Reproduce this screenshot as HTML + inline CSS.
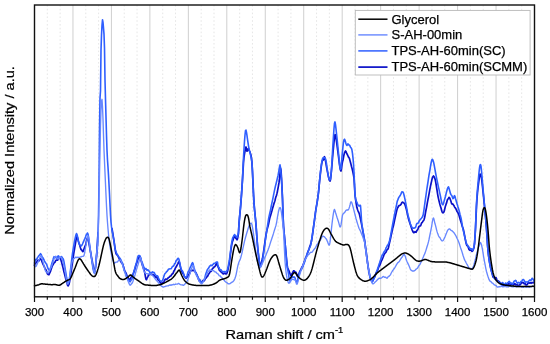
<!DOCTYPE html><html><head><meta charset="utf-8"><title>Raman spectra</title>
<style>html,body{margin:0;padding:0;background:#fff;}body{width:550px;height:344px;overflow:hidden;}svg{display:block;}text{font-family:"Liberation Sans",Arial,sans-serif;fill:#000;stroke:#000;stroke-width:0.25px;}</style></head><body>
<svg width="550" height="344" viewBox="0 0 550 344">
<rect x="0" y="0" width="550" height="344" fill="#fff"/>
<path d="M47.32,5.0V296.8M60.14,5.0V296.8M85.78,5.0V296.8M98.60,5.0V296.8M124.24,5.0V296.8M137.06,5.0V296.8M162.71,5.0V296.8M175.53,5.0V296.8M201.17,5.0V296.8M213.99,5.0V296.8M239.63,5.0V296.8M252.45,5.0V296.8M278.09,5.0V296.8M290.91,5.0V296.8M316.55,5.0V296.8M329.37,5.0V296.8M355.01,5.0V296.8M367.83,5.0V296.8M393.47,5.0V296.8M406.29,5.0V296.8M431.94,5.0V296.8M444.76,5.0V296.8M470.40,5.0V296.8M483.22,5.0V296.8M508.86,5.0V296.8M521.68,5.0V296.8" stroke="#e0e0e0" stroke-width="0.8" stroke-dasharray="1.6,2.2" fill="none"/>
<path d="M72.96,5.0V296.8M111.42,5.0V296.8M149.88,5.0V296.8M188.35,5.0V296.8M226.81,5.0V296.8M265.27,5.0V296.8M303.73,5.0V296.8M342.19,5.0V296.8M380.65,5.0V296.8M419.12,5.0V296.8M457.58,5.0V296.8M496.04,5.0V296.8" stroke="#cfcfcf" stroke-width="1" fill="none"/>
<g fill="none" stroke-linejoin="round" stroke-linecap="round">
<path d="M34.5,265.3 L35.0,263.8 L35.5,263.3 L36.0,262.9 L36.5,262.2 L37.0,261.4 L37.5,260.5 L38.0,260.0 L38.5,260.3 L39.0,260.8 L39.5,259.9 L40.0,258.8 L40.5,258.9 L41.0,259.3 L41.5,260.2 L42.0,261.6 L42.5,263.0 L43.0,264.2 L43.5,265.2 L44.0,266.1 L44.5,267.2 L45.0,268.6 L45.5,269.4 L46.0,269.9 L46.5,271.0 L47.0,272.6 L47.5,273.9 L48.0,274.2 L48.5,274.6 L49.0,274.6 L49.5,273.5 L50.0,272.4 L50.5,271.3 L51.0,269.8 L51.5,268.3 L52.0,266.8 L52.5,265.4 L53.0,264.9 L53.5,263.9 L54.0,262.8 L54.5,262.7 L55.0,262.2 L55.5,261.1 L56.0,260.2 L56.5,260.0 L57.0,260.1 L57.5,260.2 L58.0,259.7 L58.5,259.0 L59.0,258.5 L59.5,257.6 L60.0,257.5 L60.5,258.6 L61.0,260.2 L61.5,261.9 L62.0,263.8 L62.5,265.7 L63.0,267.6 L63.5,269.9 L64.0,272.0 L64.5,273.7 L65.0,275.7 L65.5,277.9 L66.0,279.8 L66.5,281.3 L67.0,283.0 L67.5,285.0 L68.0,285.9 L68.5,285.2 L69.0,284.3 L69.5,282.1 L70.0,279.0 L70.5,275.8 L71.0,272.3 L71.5,268.8 L72.0,265.4 L72.5,262.1 L73.0,258.7 L73.5,255.1 L74.0,251.8 L74.5,249.0 L75.0,246.1 L75.5,243.0 L76.0,240.1 L76.5,237.7 L77.0,236.6 L77.5,237.6 L78.0,239.6 L78.5,241.7 L79.0,243.2 L79.5,244.6 L80.0,246.3 L80.5,248.0 L81.0,249.4 L81.5,250.0 L82.0,250.3 L82.5,251.4 L83.0,251.6 L83.5,250.6 L84.0,249.1 L84.5,247.6 L85.0,246.3 L85.5,245.1 L86.0,243.4 L86.5,241.0 L87.0,238.8 L87.5,237.8 L88.0,238.2 L88.5,240.2 L89.0,243.1 L89.5,246.3 L90.0,249.2 L90.5,251.8 L91.0,254.5 L91.5,257.4 L92.0,260.0 L92.5,262.6 L93.0,265.6 L93.5,268.2 L94.0,270.3 L94.5,271.7 L95.0,271.1 L95.5,267.2 L96.0,261.8 L96.5,256.2 L97.0,250.4 L97.5,242.4 L98.0,232.5M112.0,228.7 L112.5,231.7 L113.0,234.7 L113.5,237.8 L114.0,241.0 L114.5,244.5 L115.0,248.1 L115.5,251.2 L116.0,253.3 L116.5,254.5 L117.0,255.0 L117.5,255.2 L118.0,256.2 L118.5,257.2 L119.0,258.1 L119.5,259.4 L120.0,260.4 L120.5,261.1 L121.0,261.9 L121.5,262.7 L122.0,263.2 L122.5,264.0 L123.0,265.3 L123.5,266.7 L124.0,268.6 L124.5,270.2 L125.0,271.5 L125.5,272.3 L126.0,273.1 L126.5,274.4 L127.0,275.6 L127.5,276.4 L128.0,277.3 L128.5,278.4 L129.0,279.2 L129.5,279.3 L130.0,279.3 L130.5,278.6 L131.0,277.6 L131.5,276.8 L132.0,275.9 L132.5,275.3 L133.0,274.3 L133.5,273.0 L134.0,271.7 L134.5,270.4 L135.0,268.6 L135.5,266.9 L136.0,265.1 L136.5,263.6 L137.0,262.3 L137.5,260.6 L138.0,259.1 L138.5,258.0 L139.0,257.2 L139.5,256.5 L140.0,256.8 L140.5,258.3 L141.0,260.1 L141.5,262.1 L142.0,264.0 L142.5,265.6 L143.0,267.0 L143.5,268.5 L144.0,270.0 L144.5,271.5 L145.0,274.1 L145.5,277.1 L146.0,279.4 L146.5,279.6 L147.0,278.2 L147.5,277.3 L148.0,276.3 L148.5,275.1 L149.0,274.9 L149.5,274.4 L150.0,273.8 L150.5,274.1 L151.0,274.5 L151.5,274.3 L152.0,274.2 L152.5,274.9 L153.0,275.2 L153.5,274.8 L154.0,275.1 L154.5,275.7 L155.0,276.5 L155.5,277.5 L156.0,277.4 L156.5,277.0 L157.0,277.4 L157.5,278.8 L158.0,279.9 L158.5,280.1 L159.0,280.5 L159.5,281.2 L160.0,282.2 L160.5,283.0 L161.0,283.1 L161.5,283.2 L162.0,283.4 L162.5,282.9 L163.0,282.5 L163.5,282.5 L164.0,281.7 L164.5,280.5 L165.0,279.6 L165.5,279.1 L166.0,279.3 L166.5,279.4 L167.0,279.1 L167.5,278.8 L168.0,278.1 L168.5,277.5 L169.0,277.3 L169.5,276.8 L170.0,276.2 L170.5,276.1 L171.0,275.8 L171.5,274.8 L172.0,274.0 L172.5,273.9 L173.0,273.4 L173.5,272.1 L174.0,270.9 L174.5,270.3 L175.0,269.2 L175.5,267.7 L176.0,267.1 L176.5,266.3 L177.0,265.2 L177.5,264.4 L178.0,263.3 L178.5,262.1 L179.0,261.7 L179.5,262.7 L180.0,265.1 L180.5,267.5 L181.0,269.3 L181.5,270.7 L182.0,271.9 L182.5,273.0 L183.0,273.7 L183.5,274.1 L184.0,275.5 L184.5,276.7 L185.0,277.1 L185.5,277.6 L186.0,278.3 L186.5,277.9 L187.0,277.0 L187.5,276.7 L188.0,276.1 L188.5,275.0 L189.0,274.3 L189.5,273.8 L190.0,272.4 L190.5,271.0 L191.0,270.3 L191.5,270.4 L192.0,270.6 L192.5,270.4 L193.0,270.2 L193.5,270.3 L194.0,270.7 L194.5,271.3 L195.0,271.7 L195.5,272.2 L196.0,273.0 L196.5,274.2 L197.0,275.2 L197.5,276.4 L198.0,277.8 L198.5,279.3 L199.0,280.7 L199.5,281.1 L200.0,281.0 L200.5,281.8 L201.0,282.1 L201.5,282.2 L202.0,282.4 L202.5,281.2 L203.0,280.3 L203.5,280.7 L204.0,280.8 L204.5,280.4 L205.0,279.2 L205.5,278.4 L206.0,278.2 L206.5,277.2 L207.0,276.7 L207.5,276.4 L208.0,275.3 L208.5,274.2 L209.0,273.6 L209.5,272.9 L210.0,272.0 L210.5,271.5 L211.0,271.5 L211.5,271.0 L212.0,269.6 L212.5,268.5 L213.0,268.2 L213.5,267.6 L214.0,267.1 L214.5,266.8 L215.0,266.3 L215.5,265.4 L216.0,264.4 L216.5,263.6 L217.0,264.4 L217.5,265.8 L218.0,266.7 L218.5,267.8 L219.0,269.2 L219.5,270.5 L220.0,270.9 L220.5,271.0 L221.0,271.8 L221.5,272.5 L222.0,272.7 L222.5,273.0 L223.0,273.8 L223.5,273.8 L224.0,273.3 L224.5,273.2 L225.0,273.5 L225.5,273.8 L226.0,273.8 L226.5,273.7 L227.0,272.9 L227.5,271.5 L228.0,269.6 L228.5,267.1 L229.0,264.7 L229.5,261.9 L230.0,258.0 L230.5,253.5 L231.0,249.3 L231.5,245.9 L232.0,243.4 L232.5,241.4 L233.0,240.1 L233.5,238.6 L234.0,237.0 L234.5,235.9 L235.0,236.4 L235.5,237.7 L236.0,238.4 L236.5,239.0 L237.0,239.8 L237.5,238.8 L238.0,236.3 L238.5,232.8 L239.0,223.8 L239.5,217.9 L240.0,212.7 L240.5,207.5 L241.0,201.5 L241.5,194.4 L242.0,187.0 L242.5,179.4 L243.0,170.6 L243.5,162.4 L244.0,157.0 L244.5,153.8 L245.0,151.2 L245.5,148.4 L246.0,147.0 L246.5,149.0 L247.0,151.2 L247.5,150.6 L248.0,149.1 L248.5,148.5 L249.0,149.6 L249.5,151.0 L250.0,152.2 L250.5,153.7 L251.0,155.5 L251.5,158.3 L252.0,163.4 L252.5,172.7 L253.0,183.1 L253.5,194.3 L254.0,202.9 L254.5,209.0 L255.0,214.1 L255.5,219.0 L256.0,224.9 L256.5,231.9 L257.0,239.0 L257.5,245.3 L258.0,250.7 L258.5,255.4 L259.0,259.7 L259.5,263.1 L260.0,265.1 L260.5,264.6 L261.0,263.5 L261.5,262.2 L262.0,260.6 L262.5,258.3 L263.0,255.4 L263.5,252.2 L264.0,248.8 L264.5,245.2 L265.0,241.6 L265.5,238.2 L266.0,235.0 L266.5,232.2 L267.0,229.9 L267.5,228.0 L268.0,226.3 L268.5,224.3 L269.0,221.8 L269.5,219.3 L270.0,217.2 L270.5,215.7 L271.0,214.0 L271.5,212.2 L272.0,210.5 L272.5,208.5 L273.0,206.9 L273.5,205.2 L274.0,203.4 L274.5,202.1 L275.0,200.5 L275.5,198.3 L276.0,196.6 L276.5,195.3 L277.0,193.4 L277.5,190.9 L278.0,188.4 L278.5,185.7 L279.0,182.7 L279.5,178.7 L280.0,173.6 L280.5,168.1 L281.0,170.3 L281.5,177.9 L282.0,187.6 L282.5,198.8 L283.0,214.5 L283.5,226.1 L284.0,231.6 L284.5,237.1 L285.0,242.6 L285.5,248.0 L286.0,253.4 L286.5,258.9 L287.0,264.2 L287.5,267.4 L288.0,269.0 L288.5,269.9 L289.0,270.9 L289.5,272.4 L290.0,273.7 L290.5,275.1 L291.0,275.9 L291.5,274.9 L292.0,273.7 L292.5,272.8 L293.0,271.8 L293.5,270.9 L294.0,270.8 L294.5,271.5 L295.0,271.9 L295.5,272.0 L296.0,272.4 L296.5,273.7 L297.0,275.4 L297.5,276.5 L298.0,275.6 L298.5,274.6 L299.0,273.5 L299.5,272.2 L300.0,271.1 L300.5,270.3 L301.0,269.3 L301.5,268.1 L302.0,266.9 L302.5,266.4 L303.0,265.3 L303.5,263.7 L304.0,262.3 L304.5,261.1 L305.0,259.6 L305.5,258.2 L306.0,257.1 L306.5,255.9 L307.0,254.6 L307.5,253.1 L308.0,251.5 L308.5,250.3 L309.0,249.1 L309.5,247.5 L310.0,246.0 L310.5,244.6 L311.0,243.0 L311.5,240.8 L312.0,237.8 L312.5,234.3 L313.0,230.8 L313.5,227.1 L314.0,223.5 L314.5,220.1 L315.0,216.2 L315.5,212.2 L316.0,208.6 L316.5,205.9 L317.0,203.1 L317.5,199.9 L318.0,196.4 L318.5,192.5 L319.0,187.4 L319.5,182.0 L320.0,177.1 L320.5,172.7 L321.0,168.5 L321.5,164.8 L322.0,162.0 L322.5,160.5 L323.0,160.2 L323.5,159.7 L324.0,157.7 L324.5,156.7 L325.0,158.3 L325.5,160.8 L326.0,163.7 L326.5,166.8 L327.0,169.4 L327.5,171.9 L328.0,174.6 L328.5,176.9 L329.0,178.9 L329.5,180.4 L330.0,181.1 L330.5,179.7 L331.0,175.5 L331.5,170.1 L332.0,164.4 L332.5,158.3 L333.0,152.4 L333.5,147.1 L334.0,142.0 L334.5,137.6 L335.0,134.7 L335.5,134.9 L336.0,137.9 L336.5,141.3 L337.0,145.0 L337.5,148.9 L338.0,152.7 L338.5,156.5 L339.0,160.3 L339.5,164.3 L340.0,167.9 L340.5,170.2 L341.0,171.1 L341.5,168.4 L342.0,164.5 L342.5,161.9 L343.0,160.0 L343.5,157.4 L344.0,154.7 L344.5,152.8 L345.0,151.8 L345.5,151.0 L346.0,151.6 L346.5,152.9 L347.0,154.0 L347.5,154.9 L348.0,156.0 L348.5,157.1 L349.0,157.7 L349.5,158.7 L350.0,160.6 L350.5,162.5 L351.0,164.4 L351.5,166.5 L352.0,168.4 L352.5,170.3 L353.0,172.6 L353.5,175.1 L354.0,178.0 L354.5,186.3 L355.0,195.0 L355.5,198.6 L356.0,202.1 L356.5,205.3 L357.0,207.8 L357.5,209.5 L358.0,210.8 L358.5,212.0 L359.0,212.9 L359.5,214.6 L360.0,216.8 L360.5,219.0 L361.0,221.4 L361.5,223.9 L362.0,226.4 L362.5,229.1 L363.0,231.9 L363.5,234.6 L364.0,237.4 L364.5,240.2 L365.0,243.4 L365.5,247.1 L366.0,251.0 L366.5,254.7 L367.0,258.5 L367.5,262.3 L368.0,266.0 L368.5,269.1 L369.0,272.0 L369.5,274.6 L370.0,276.7 L370.5,278.4 L371.0,279.6 L371.5,280.8 L372.0,281.7 L372.5,281.2 L373.0,280.3 L373.5,278.8 L374.0,277.6 L374.5,277.3 L375.0,276.4 L375.5,274.8 L376.0,273.4 L376.5,272.2 L377.0,271.4 L377.5,270.7 L378.0,269.3 L378.5,267.6 L379.0,266.3 L379.5,265.5 L380.0,264.7 L380.5,263.4 L381.0,261.8 L381.5,260.6 L382.0,259.9 L382.5,258.7 L383.0,257.5 L383.5,256.2 L384.0,254.7 L384.5,253.9 L385.0,253.3 L385.5,252.6 L386.0,252.1 L386.5,251.0 L387.0,249.7 L387.5,249.4 L388.0,249.0 L388.5,247.4 L389.0,245.0 L389.5,242.8 L390.0,240.8 L390.5,238.6 L391.0,236.1 L391.5,233.8 L392.0,231.7 L392.5,229.1 L393.0,227.2 L393.5,225.4 L394.0,223.0 L394.5,220.5 L395.0,218.2 L395.5,216.1 L396.0,213.8 L396.5,211.6 L397.0,209.6 L397.5,208.1 L398.0,207.3 L398.5,206.2 L399.0,205.7 L399.5,205.6 L400.0,205.2 L400.5,204.9 L401.0,204.4 L401.5,203.3 L402.0,202.5 L402.5,202.2 L403.0,202.3 L403.5,202.7 L404.0,203.0 L404.5,203.7 L405.0,204.7 L405.5,206.2 L406.0,208.0 L406.5,209.8 L407.0,212.0 L407.5,214.5 L408.0,216.6 L408.5,218.7 L409.0,220.4 L409.5,221.9 L410.0,223.4 L410.5,224.9 L411.0,226.4 L411.5,228.0 L412.0,229.6 L412.5,230.7 L413.0,231.8 L413.5,232.6 L414.0,232.7 L414.5,232.1 L415.0,231.7 L415.5,232.1 L416.0,232.3 L416.5,231.3 L417.0,230.3 L417.5,229.9 L418.0,228.8 L418.5,227.5 L419.0,226.5 L419.5,226.0 L420.0,226.0 L420.5,225.9 L421.0,224.6 L421.5,223.2 L422.0,222.7 L422.5,222.0 L423.0,221.1 L423.5,220.7 L424.0,219.8 L424.5,218.0 L425.0,215.6 L425.5,212.7 L426.0,210.0 L426.5,207.6 L427.0,204.9 L427.5,201.9 L428.0,199.3 L428.5,196.8 L429.0,194.1 L429.5,191.4 L430.0,188.6 L430.5,186.1 L431.0,183.8 L431.5,181.6 L432.0,179.2 L432.5,177.4 L433.0,176.6 L433.5,176.0 L434.0,176.5 L434.5,177.6 L435.0,178.9 L435.5,181.0 L436.0,183.9 L436.5,187.0 L437.0,190.2 L437.5,193.4 L438.0,196.3 L438.5,198.7 L439.0,200.9 L439.5,202.9 L440.0,204.8 L440.5,206.5 L441.0,208.1 L441.5,209.9 L442.0,211.6 L442.5,212.6 L443.0,212.8 L443.5,212.6 L444.0,211.8 L444.5,210.1 L445.0,207.9 L445.5,205.9 L446.0,204.4 L446.5,203.2 L447.0,201.3 L447.5,199.6 L448.0,199.0 L448.5,198.2 L449.0,197.3 L449.5,197.7 L450.0,198.7 L450.5,200.0 L451.0,201.6 L451.5,203.3 L452.0,204.1 L452.5,203.8 L453.0,204.2 L453.5,205.0 L454.0,205.7 L454.5,206.8 L455.0,207.7 L455.5,208.2 L456.0,208.9 L456.5,210.2 L457.0,211.4 L457.5,212.1 L458.0,212.8 L458.5,213.9 L459.0,215.3 L459.5,216.9 L460.0,218.7 L460.5,220.4 L461.0,221.9 L461.5,223.5 L462.0,225.4 L462.5,227.0 L463.0,228.3 L463.5,230.1 L464.0,232.5 L464.5,235.1 L465.0,237.8 L465.5,240.4 L466.0,242.8 L466.5,244.6 L467.0,245.7 L467.5,245.8 L468.0,246.4 L468.5,248.0 L469.0,249.4 L469.5,250.0 L470.0,250.3 L470.5,250.0 L471.0,250.0 L471.5,250.8 L472.0,251.4 L472.5,251.0 L473.0,250.1 L473.5,249.1 L474.0,247.5 L474.5,243.7 L475.0,236.6 L475.5,228.2 L476.0,217.4 L476.5,206.4 L477.0,198.5 L477.5,192.5 L478.0,187.7 L478.5,183.7 L479.0,180.0 L479.5,176.5 L480.0,174.1 L480.5,174.4 L481.0,175.5 L481.5,178.0 L482.0,182.0 L482.5,186.6 L483.0,191.3 L483.5,196.1 L484.0,201.1 L484.5,206.2 L485.0,211.2 L485.5,216.5 L486.0,222.4 L486.5,228.6 L487.0,236.2 L487.5,244.7 L488.0,250.6 L488.5,255.2 L489.0,258.9 L489.5,262.0 L490.0,264.7 L490.5,267.0 L491.0,269.5 L491.5,271.5 L492.0,273.1 L492.5,275.1 L493.0,276.9 L493.5,277.4 L494.0,277.3 L494.5,277.7 L495.0,278.2 L495.5,277.7 L496.0,277.6 L496.5,278.7 L497.0,280.1 L497.5,281.4 L498.0,281.5 L498.5,281.0 L499.0,281.5 L499.5,282.3 L500.0,282.5 L500.5,282.8 L501.0,283.4 L501.5,283.8 L502.0,284.1 L502.5,284.5 L503.0,285.3 L503.5,285.1 L504.0,284.7 L504.5,285.4 L505.0,285.5 L505.5,285.0 L506.0,284.5 L506.5,284.4 L507.0,284.4 L507.5,284.3 L508.0,284.4 L508.5,283.9 L509.0,283.2 L509.5,283.5 L510.0,284.3 L510.5,284.6 L511.0,284.5 L511.5,284.7 L512.0,284.7 L512.5,284.1 L513.0,284.3 L513.5,284.8 L514.0,284.3 L514.5,283.6 L515.0,283.6 L515.5,284.5 L516.0,284.9 L516.5,284.6 L517.0,284.6 L517.5,285.1 L518.0,286.0 L518.5,285.7 L519.0,285.0 L519.5,285.1 L520.0,284.8 L520.5,284.3 L521.0,283.7 L521.5,282.8 L522.0,282.6 L522.5,282.8 L523.0,282.5 L523.5,282.6 L524.0,283.6 L524.5,283.8 L525.0,283.7 L525.5,284.2 L526.0,285.0 L526.5,285.0 L527.0,284.7 L527.5,284.1 L528.0,283.1 L528.5,282.9 L529.0,283.0 L529.5,283.1 L530.0,282.7 L530.5,282.6 L531.0,283.3 L531.5,282.8 L532.0,282.4 L532.5,282.7 L533.0,282.9 L533.5,282.5 L534.0,282.7" stroke="#0a10c8" stroke-width="1.7"/>
<path d="M34.5,263.0 L35.0,261.6 L35.5,260.1 L36.0,259.2 L36.5,259.3 L37.0,258.7 L37.5,257.5 L38.0,256.9 L38.5,256.2 L39.0,255.5 L39.5,255.1 L40.0,254.4 L40.5,253.7 L41.0,254.2 L41.5,255.3 L42.0,256.3 L42.5,257.2 L43.0,258.0 L43.5,258.9 L44.0,259.9 L44.5,261.0 L45.0,262.0 L45.5,262.7 L46.0,263.4 L46.5,264.0 L47.0,265.4 L47.5,266.9 L48.0,268.4 L48.5,269.5 L49.0,270.1 L49.5,270.3 L50.0,269.3 L50.5,267.9 L51.0,266.4 L51.5,264.7 L52.0,263.0 L52.5,261.4 L53.0,259.8 L53.5,258.0 L54.0,256.7 L54.5,256.9 L55.0,257.5 L55.5,257.5 L56.0,257.6 L56.5,258.2 L57.0,257.9 L57.5,257.0 L58.0,256.1 L58.5,255.9 L59.0,257.2 L59.5,258.0 L60.0,257.6 L60.5,257.5 L61.0,257.0 L61.5,256.6 L62.0,257.2 L62.5,258.0 L63.0,258.5 L63.5,259.7 L64.0,261.9 L64.5,264.8 L65.0,267.9 L65.5,271.0 L66.0,274.0 L66.5,276.7 L67.0,278.9 L67.5,280.6 L68.0,282.0 L68.5,283.1 L69.0,281.4 L69.5,278.2 L70.0,274.4 L70.5,270.2 L71.0,265.9 L71.5,261.5 L72.0,257.2 L72.5,253.4 L73.0,250.2 L73.5,247.2 L74.0,244.2 L74.5,241.4 L75.0,238.9 L75.5,236.7 L76.0,234.7 L76.5,233.6 L77.0,234.5 L77.5,236.5 L78.0,239.2 L78.5,241.6 L79.0,243.1 L79.5,244.3 L80.0,245.2 L80.5,245.7 L81.0,245.9 L81.5,245.7 L82.0,245.1 L82.5,244.0 L83.0,242.8 L83.5,241.7 L84.0,240.5 L84.5,239.4 L85.0,238.4 L85.5,237.1 L86.0,235.5 L86.5,234.3 L87.0,233.9 L87.5,233.0 L88.0,234.0 L88.5,236.8 L89.0,240.3 L89.5,244.3 L90.0,248.0 L90.5,251.3 L91.0,254.8 L91.5,258.5 L92.0,262.0 L92.5,265.2 L93.0,268.4 L93.5,270.8 L94.0,272.4 L94.5,273.0 L95.0,271.4 L95.5,267.2 L96.0,261.8 L96.5,256.1 L97.0,250.2 L97.5,242.2 L98.0,232.3 L98.5,216.4 L99.0,184.0 L99.5,129.8 L100.0,98.0 L100.5,91.0 L101.0,50.2 L101.5,35.3 L102.0,25.3 L102.5,19.7 L103.0,22.4 L103.5,28.1 L104.0,34.1 L104.5,48.3 L105.0,80.1 L105.5,99.3 L106.0,117.1 L106.5,135.0 L107.0,150.4 L107.5,160.3 L108.0,167.3 L108.5,175.1 L109.0,184.4 L109.5,194.0 L110.0,204.6 L110.5,215.0 L111.0,222.1 L111.5,226.7 L112.0,230.0 L112.5,232.9 L113.0,235.7 L113.5,238.4 L114.0,241.2 L114.5,244.8 L115.0,248.4 L115.5,250.6 L116.0,251.6 L116.5,253.0 L117.0,254.0 L117.5,254.8 L118.0,255.9 L118.5,256.8 L119.0,257.0 L119.5,257.5 L120.0,258.5 L120.5,259.3 L121.0,260.0 L121.5,261.3 L122.0,262.2 L122.5,263.2 L123.0,264.9 L123.5,266.9 L124.0,269.1 L124.5,270.7 L125.0,271.7 L125.5,272.9 L126.0,274.4 L126.5,275.9 L127.0,277.4 L127.5,278.4 L128.0,279.2 L128.5,279.8 L129.0,280.2 L129.5,281.2 L130.0,281.9 L130.5,281.2 L131.0,280.3 L131.5,279.8 L132.0,278.8 L132.5,276.8 L133.0,274.9 L133.5,273.3 L134.0,271.2 L134.5,269.4 L135.0,267.6 L135.5,265.8 L136.0,264.1 L136.5,262.5 L137.0,260.4 L137.5,258.0 L138.0,256.2 L138.5,255.6 L139.0,255.7 L139.5,255.5 L140.0,255.9 L140.5,257.3 L141.0,259.0 L141.5,260.7 L142.0,262.0 L142.5,263.3 L143.0,265.1 L143.5,266.4 L144.0,267.2 L144.5,268.6 L145.0,269.1 L145.5,268.5 L146.0,268.6 L146.5,269.7 L147.0,270.3 L147.5,269.7 L148.0,269.8 L148.5,270.7 L149.0,270.9 L149.5,271.5 L150.0,273.2 L150.5,273.6 L151.0,272.8 L151.5,272.4 L152.0,272.2 L152.5,271.9 L153.0,272.4 L153.5,272.7 L154.0,272.4 L154.5,273.0 L155.0,274.1 L155.5,274.8 L156.0,275.3 L156.5,275.7 L157.0,275.7 L157.5,275.8 L158.0,276.6 L158.5,278.0 L159.0,279.2 L159.5,280.0 L160.0,280.6 L160.5,280.9 L161.0,281.3 L161.5,281.3 L162.0,281.1 L162.5,280.7 L163.0,279.4 L163.5,277.5 L164.0,275.9 L164.5,274.5 L165.0,273.5 L165.5,273.1 L166.0,272.5 L166.5,271.8 L167.0,271.4 L167.5,270.8 L168.0,270.0 L168.5,269.3 L169.0,269.1 L169.5,268.9 L170.0,268.7 L170.5,268.8 L171.0,268.8 L171.5,268.1 L172.0,267.2 L172.5,266.6 L173.0,266.2 L173.5,266.0 L174.0,265.1 L174.5,263.8 L175.0,263.6 L175.5,262.6 L176.0,260.9 L176.5,260.4 L177.0,259.9 L177.5,258.9 L178.0,258.4 L178.5,258.4 L179.0,259.5 L179.5,261.7 L180.0,264.2 L180.5,266.5 L181.0,268.3 L181.5,269.5 L182.0,270.5 L182.5,271.1 L183.0,272.0 L183.5,273.5 L184.0,275.4 L184.5,276.8 L185.0,277.4 L185.5,277.4 L186.0,277.1 L186.5,276.9 L187.0,275.7 L187.5,273.9 L188.0,272.2 L188.5,271.1 L189.0,270.4 L189.5,269.3 L190.0,267.9 L190.5,266.9 L191.0,265.9 L191.5,264.6 L192.0,263.4 L192.5,262.7 L193.0,263.3 L193.5,265.6 L194.0,267.7 L194.5,269.3 L195.0,270.9 L195.5,272.1 L196.0,272.9 L196.5,273.9 L197.0,275.1 L197.5,276.3 L198.0,277.2 L198.5,278.2 L199.0,279.2 L199.5,279.5 L200.0,279.8 L200.5,281.0 L201.0,282.2 L201.5,282.5 L202.0,282.3 L202.5,281.9 L203.0,281.7 L203.5,281.0 L204.0,280.0 L204.5,278.9 L205.0,277.1 L205.5,275.0 L206.0,273.3 L206.5,271.9 L207.0,270.5 L207.5,269.4 L208.0,268.8 L208.5,268.3 L209.0,267.5 L209.5,266.3 L210.0,266.0 L210.5,265.6 L211.0,265.0 L211.5,265.4 L212.0,265.7 L212.5,265.1 L213.0,264.4 L213.5,263.9 L214.0,263.4 L214.5,263.3 L215.0,263.3 L215.5,262.9 L216.0,262.4 L216.5,262.3 L217.0,261.9 L217.5,262.2 L218.0,265.5 L218.5,267.3 L219.0,267.2 L219.5,268.6 L220.0,269.7 L220.5,269.9 L221.0,269.7 L221.5,270.4 L222.0,271.3 L222.5,271.8 L223.0,271.8 L223.5,271.7 L224.0,271.5 L224.5,271.6 L225.0,272.0 L225.5,272.1 L226.0,271.5 L226.5,271.1 L227.0,270.8 L227.5,269.5 L228.0,267.3 L228.5,264.8 L229.0,262.1 L229.5,259.2 L230.0,255.7 L230.5,251.7 L231.0,247.6 L231.5,243.8 L232.0,241.0 L232.5,238.6 L233.0,237.1 L233.5,236.4 L234.0,235.5 L234.5,234.5 L235.0,235.1 L235.5,235.6 L236.0,236.2 L236.5,237.2 L237.0,237.4 L237.5,236.2 L238.0,234.5 L238.5,231.8 L239.0,223.6 L239.5,217.5 L240.0,212.5 L240.5,207.4 L241.0,201.4 L241.5,194.5 L242.0,187.4 L242.5,179.1 L243.0,167.5 L243.5,157.3 L244.0,148.7 L244.5,141.1 L245.0,135.0 L245.5,130.5 L246.0,130.1 L246.5,132.4 L247.0,135.6 L247.5,139.3 L248.0,142.7 L248.5,145.8 L249.0,148.6 L249.5,150.7 L250.0,152.5 L250.5,154.6 L251.0,157.0 L251.5,159.5 L252.0,163.0 L252.5,171.3 L253.0,183.3 L253.5,194.3 L254.0,203.1 L254.5,209.5 L255.0,214.6 L255.5,219.3 L256.0,224.8 L256.5,231.8 L257.0,238.9 L257.5,245.2 L258.0,250.3 L258.5,254.7 L259.0,258.8 L259.5,262.9 L260.0,266.0 L260.5,266.7 L261.0,266.0 L261.5,264.7 L262.0,262.6 L262.5,260.0 L263.0,257.2 L263.5,254.0 L264.0,250.4 L264.5,246.7 L265.0,243.0 L265.5,239.3 L266.0,235.7 L266.5,232.3 L267.0,229.0 L267.5,225.8 L268.0,222.6 L268.5,219.4 L269.0,216.6 L269.5,214.4 L270.0,212.3 L270.5,210.1 L271.0,207.5 L271.5,205.0 L272.0,202.6 L272.5,200.3 L273.0,197.9 L273.5,195.3 L274.0,192.8 L274.5,190.4 L275.0,188.1 L275.5,185.9 L276.0,184.0 L276.5,182.0 L277.0,179.9 L277.5,177.8 L278.0,175.7 L278.5,173.1 L279.0,169.9 L279.5,166.9 L280.0,164.9 L280.5,167.7 L281.0,173.4 L281.5,180.2 L282.0,188.8 L282.5,199.0 L283.0,214.1 L283.5,226.0 L284.0,231.5 L284.5,237.0 L285.0,242.3 L285.5,247.8 L286.0,253.9 L286.5,259.8 L287.0,264.6 L287.5,268.3 L288.0,271.2 L288.5,274.0 L289.0,277.3 L289.5,280.2 L290.0,281.2 L290.5,280.8 L291.0,279.3 L291.5,277.9 L292.0,276.9 L292.5,276.7 L293.0,277.3 L293.5,277.2 L294.0,276.9 L294.5,277.1 L295.0,277.9 L295.5,279.7 L296.0,281.3 L296.5,282.1 L297.0,282.5 L297.5,280.6 L298.0,277.9 L298.5,276.1 L299.0,274.7 L299.5,273.4 L300.0,271.8 L300.5,270.5 L301.0,270.0 L301.5,269.3 L302.0,268.5 L302.5,267.4 L303.0,265.9 L303.5,264.7 L304.0,263.6 L304.5,262.3 L305.0,260.6 L305.5,259.1 L306.0,257.7 L306.5,256.2 L307.0,254.6 L307.5,253.1 L308.0,251.9 L308.5,250.6 L309.0,249.2 L309.5,248.0 L310.0,247.0 L310.5,245.8 L311.0,243.6 L311.5,240.8 L312.0,237.7 L312.5,234.3 L313.0,230.7 L313.5,227.0 L314.0,223.3 L314.5,219.7 L315.0,215.9 L315.5,212.3 L316.0,209.1 L316.5,206.2 L317.0,203.2 L317.5,199.9 L318.0,196.4 L318.5,192.5 L319.0,187.2 L319.5,181.5 L320.0,176.1 L320.5,171.6 L321.0,167.5 L321.5,163.9 L322.0,160.8 L322.5,158.8 L323.0,157.8 L323.5,157.6 L324.0,157.7 L324.5,157.8 L325.0,158.1 L325.5,158.8 L326.0,160.8 L326.5,163.7 L327.0,167.7 L327.5,171.2 L328.0,174.1 L328.5,176.9 L329.0,179.0 L329.5,179.8 L330.0,179.9 L330.5,178.8 L331.0,174.9 L331.5,169.0 L332.0,161.2 L332.5,152.0 L333.0,143.2 L333.5,135.8 L334.0,128.5 L334.5,123.2 L335.0,121.9 L335.5,124.7 L336.0,128.9 L336.5,133.6 L337.0,138.2 L337.5,143.1 L338.0,148.1 L338.5,153.1 L339.0,158.2 L339.5,163.3 L340.0,167.6 L340.5,169.3 L341.0,168.8 L341.5,163.2 L342.0,156.3 L342.5,151.3 L343.0,146.4 L343.5,142.2 L344.0,139.7 L344.5,139.2 L345.0,140.1 L345.5,142.1 L346.0,143.7 L346.5,144.9 L347.0,145.4 L347.5,144.4 L348.0,143.9 L348.5,144.7 L349.0,145.0 L349.5,145.1 L350.0,146.0 L350.5,147.3 L351.0,147.8 L351.5,148.5 L352.0,150.3 L352.5,153.6 L353.0,158.1 L353.5,163.9 L354.0,172.3 L354.5,183.6 L355.0,195.0 L355.5,198.4 L356.0,200.7 L356.5,201.8 L357.0,202.5 L357.5,203.8 L358.0,204.9 L358.5,205.5 L359.0,206.1 L359.5,205.8 L360.0,205.1 L360.5,205.5 L361.0,212.0 L361.5,220.6 L362.0,225.2 L362.5,228.2 L363.0,231.2 L363.5,234.0 L364.0,236.8 L364.5,239.9 L365.0,243.7 L365.5,247.7 L366.0,251.4 L366.5,254.9 L367.0,258.6 L367.5,262.4 L368.0,265.9 L368.5,269.1 L369.0,272.1 L369.5,274.7 L370.0,277.0 L370.5,278.9 L371.0,279.6 L371.5,280.4 L372.0,281.7 L372.5,281.6 L373.0,280.4 L373.5,279.6 L374.0,278.8 L374.5,277.0 L375.0,275.4 L375.5,274.3 L376.0,273.4 L376.5,272.3 L377.0,270.6 L377.5,269.1 L378.0,267.9 L378.5,266.1 L379.0,264.4 L379.5,263.0 L380.0,261.4 L380.5,259.9 L381.0,258.5 L381.5,257.0 L382.0,255.5 L382.5,254.6 L383.0,253.8 L383.5,252.9 L384.0,252.0 L384.5,251.2 L385.0,250.8 L385.5,249.7 L386.0,247.9 L386.5,247.1 L387.0,246.2 L387.5,245.1 L388.0,244.8 L388.5,243.9 L389.0,242.4 L389.5,240.8 L390.0,238.8 L390.5,236.2 L391.0,233.4 L391.5,230.7 L392.0,227.9 L392.5,225.2 L393.0,222.5 L393.5,219.8 L394.0,217.2 L394.5,214.7 L395.0,212.2 L395.5,209.6 L396.0,207.3 L396.5,205.0 L397.0,202.3 L397.5,200.6 L398.0,199.4 L398.5,198.1 L399.0,197.1 L399.5,196.5 L400.0,195.8 L400.5,194.9 L401.0,193.9 L401.5,192.6 L402.0,191.7 L402.5,191.9 L403.0,192.1 L403.5,193.1 L404.0,195.0 L404.5,197.1 L405.0,199.4 L405.5,201.9 L406.0,204.4 L406.5,207.1 L407.0,210.0 L407.5,212.8 L408.0,215.2 L408.5,216.9 L409.0,218.5 L409.5,220.4 L410.0,222.6 L410.5,224.4 L411.0,225.4 L411.5,226.3 L412.0,227.5 L412.5,228.0 L413.0,228.0 L413.5,228.1 L414.0,228.1 L414.5,228.0 L415.0,227.8 L415.5,227.4 L416.0,225.9 L416.5,224.1 L417.0,223.4 L417.5,223.4 L418.0,223.2 L418.5,222.7 L419.0,221.4 L419.5,220.3 L420.0,219.9 L420.5,219.3 L421.0,218.7 L421.5,218.2 L422.0,217.4 L422.5,216.9 L423.0,215.6 L423.5,213.0 L424.0,209.6 L424.5,205.8 L425.0,202.1 L425.5,198.7 L426.0,195.1 L426.5,191.5 L427.0,188.1 L427.5,185.0 L428.0,181.8 L428.5,178.4 L429.0,175.2 L429.5,172.4 L430.0,169.6 L430.5,166.4 L431.0,163.5 L431.5,161.3 L432.0,159.5 L432.5,159.4 L433.0,160.4 L433.5,161.9 L434.0,164.2 L434.5,166.8 L435.0,169.6 L435.5,172.5 L436.0,175.2 L436.5,177.7 L437.0,180.1 L437.5,182.5 L438.0,185.0 L438.5,187.3 L439.0,189.4 L439.5,191.8 L440.0,194.2 L440.5,196.5 L441.0,199.2 L441.5,201.8 L442.0,203.6 L442.5,204.6 L443.0,204.7 L443.5,203.3 L444.0,201.5 L444.5,199.8 L445.0,198.0 L445.5,196.2 L446.0,194.1 L446.5,192.1 L447.0,190.2 L447.5,188.6 L448.0,187.4 L448.5,186.8 L449.0,188.2 L449.5,190.0 L450.0,191.8 L450.5,193.7 L451.0,194.7 L451.5,195.2 L452.0,196.0 L452.5,197.4 L453.0,198.6 L453.5,198.3 L454.0,196.7 L454.5,195.7 L455.0,196.5 L455.5,198.5 L456.0,200.2 L456.5,202.0 L457.0,203.8 L457.5,205.3 L458.0,207.0 L458.5,208.5 L459.0,210.2 L459.5,212.3 L460.0,214.4 L460.5,216.1 L461.0,218.0 L461.5,220.6 L462.0,223.7 L462.5,226.6 L463.0,229.2 L463.5,231.4 L464.0,233.6 L464.5,235.8 L465.0,238.0 L465.5,239.9 L466.0,241.9 L466.5,243.6 L467.0,244.5 L467.5,245.0 L468.0,246.3 L468.5,247.1 L469.0,247.1 L469.5,247.6 L470.0,248.6 L470.5,249.1 L471.0,248.8 L471.5,248.7 L472.0,249.4 L472.5,250.4 L473.0,249.8 L473.5,248.3 L474.0,247.0 L474.5,243.6 L475.0,236.9 L475.5,228.1 L476.0,215.3 L476.5,203.0 L477.0,195.4 L477.5,188.9 L478.0,183.2 L478.5,177.9 L479.0,172.7 L479.5,168.1 L480.0,165.1 L480.5,164.6 L481.0,166.3 L481.5,170.8 L482.0,176.5 L482.5,182.4 L483.0,188.4 L483.5,194.2 L484.0,199.8 L484.5,205.2 L485.0,210.7 L485.5,216.6 L486.0,222.7 L486.5,228.9 L487.0,236.4 L487.5,244.9 L488.0,250.8 L488.5,255.4 L489.0,259.0 L489.5,262.0 L490.0,265.1 L490.5,267.8 L491.0,269.6 L491.5,271.2 L492.0,273.1 L492.5,274.6 L493.0,275.6 L493.5,276.4 L494.0,277.3 L494.5,278.6 L495.0,279.2 L495.5,279.4 L496.0,279.9 L496.5,280.5 L497.0,281.1 L497.5,281.2 L498.0,281.3 L498.5,281.6 L499.0,282.3 L499.5,282.7 L500.0,282.7 L500.5,283.2 L501.0,284.2 L501.5,285.1 L502.0,284.0 L502.5,282.5 L503.0,282.9 L503.5,283.7 L504.0,284.4 L504.5,285.0 L505.0,284.2 L505.5,283.1 L506.0,283.3 L506.5,283.6 L507.0,283.6 L507.5,283.2 L508.0,282.4 L508.5,282.0 L509.0,281.4 L509.5,281.5 L510.0,282.8 L510.5,283.5 L511.0,283.1 L511.5,283.0 L512.0,283.8 L512.5,284.0 L513.0,283.6 L513.5,282.3 L514.0,281.3 L514.5,281.1 L515.0,280.8 L515.5,280.4 L516.0,280.7 L516.5,281.8 L517.0,282.7 L517.5,283.2 L518.0,282.8 L518.5,282.4 L519.0,282.7 L519.5,283.1 L520.0,282.9 L520.5,282.1 L521.0,281.3 L521.5,281.3 L522.0,281.0 L522.5,280.0 L523.0,279.5 L523.5,279.6 L524.0,280.0 L524.5,281.1 L525.0,282.2 L525.5,282.3 L526.0,282.0 L526.5,282.0 L527.0,281.9 L527.5,282.1 L528.0,281.9 L528.5,281.2 L529.0,280.8 L529.5,280.3 L530.0,280.0 L530.5,280.2 L531.0,280.4 L531.5,279.5 L532.0,278.4 L532.5,278.4 L533.0,279.1 L533.5,279.9 L534.0,281.5" stroke="#2f5fff" stroke-width="1.6"/>
<path d="M34.5,264.1 L35.0,265.8 L35.5,266.7 L36.0,266.4 L36.5,265.5 L37.0,264.4 L37.5,263.1 L38.0,262.1 L38.5,261.0 L39.0,259.7 L39.5,258.6 L40.0,257.4 L40.5,256.4 L41.0,255.8 L41.5,256.4 L42.0,258.0 L42.5,260.0 L43.0,261.9 L43.5,263.7 L44.0,265.8 L44.5,267.8 L45.0,269.5 L45.5,271.1 L46.0,271.9 L46.5,271.9 L47.0,272.1 L47.5,272.7 L48.0,272.7 L48.5,272.3 L49.0,271.8 L49.5,270.8 L50.0,269.5 L50.5,268.5 L51.0,267.7 L51.5,266.5 L52.0,265.1 L52.5,263.6 L53.0,262.0 L53.5,260.7 L54.0,259.3 L54.5,257.8 L55.0,256.7 L55.5,256.3 L56.0,256.5 L56.5,257.2 L57.0,258.1 L57.5,258.7 L58.0,259.0 L58.5,259.0 L59.0,258.6 L59.5,257.8 L60.0,257.1 L60.5,256.9 L61.0,257.1 L61.5,257.7 L62.0,258.8 L62.5,260.5 L63.0,262.2 L63.5,264.0 L64.0,265.9 L64.5,268.2 L65.0,271.1 L65.5,274.2 L66.0,277.4 L66.5,280.4 L67.0,282.7 L67.5,284.1 L68.0,284.0 L68.5,282.5 L69.0,280.5 L69.5,277.9 L70.0,275.0 L70.5,271.6 L71.0,267.8 L71.5,264.3 L72.0,262.1 L72.5,260.7 L73.0,259.6 L73.5,258.9 L74.0,258.5 L74.5,258.3 L75.0,257.8 L75.5,257.1 L76.0,257.1 L76.5,257.6 L77.0,257.6 L77.5,257.2 L78.0,257.2 L78.5,257.4 L79.0,257.4 L79.5,257.4 L80.0,257.2 L80.5,256.9 L81.0,256.9 L81.5,256.8 L82.0,256.4 L82.5,256.4 L83.0,256.4 L83.5,256.2 L84.0,255.5 L84.5,253.4 L85.0,250.6 L85.5,247.6 L86.0,245.1 L86.5,242.7 L87.0,239.9 L87.5,237.4 L88.0,236.0 L88.5,236.6 L89.0,239.3 L89.5,243.5 L90.0,248.2 L90.5,252.0 L91.0,255.1 L91.5,258.1 L92.0,261.0 L92.5,264.0 L93.0,266.9 L93.5,269.6 L94.0,272.1 L94.5,273.8 L95.0,271.7 L95.5,267.3 L96.0,261.6 L96.5,255.5 L97.0,250.4 L97.5,248.0 L98.0,241.6 L98.5,223.2 L99.0,198.7 L99.5,174.3 L100.0,150.0 L100.5,125.0 L101.0,110.0 L101.5,101.2 L102.0,99.3 L102.5,106.9 L103.0,119.0 L103.5,135.0 L104.0,150.0 L104.5,161.6 L105.0,172.9 L105.5,184.0 L106.0,195.1 L106.5,205.9 L107.0,215.4 L107.5,222.5 L108.0,228.7 L108.5,234.3 L109.0,239.1 L109.5,243.1 L110.0,246.5 L110.5,249.3 L111.0,251.9 L111.5,254.3 L112.0,256.7 L112.5,258.7 L113.0,260.4 L113.5,261.7 L114.0,262.7 L114.5,263.2 L115.0,262.7 L115.5,262.3 L116.0,262.2 L116.5,262.1 L117.0,262.0 L117.5,261.8 L118.0,261.1 L118.5,260.5 L119.0,260.3 L119.5,260.2 L120.0,260.0 L120.5,260.2 L121.0,260.8 L121.5,261.9 L122.0,263.4 L122.5,264.9 L123.0,266.4 L123.5,268.3 L124.0,270.1 L124.5,271.6 L125.0,273.0 L125.5,274.6 L126.0,276.3 L126.5,277.5 L127.0,278.5 L127.5,279.8 L128.0,281.1 L128.5,282.3 L129.0,283.4 L129.5,284.4 L130.0,285.2 L130.5,285.1 L131.0,284.3 L131.5,283.9 L132.0,283.3 L132.5,282.4 L133.0,281.2 L133.5,279.6 L134.0,278.0 L134.5,276.6 L135.0,275.0 L135.5,273.0 L136.0,271.3 L136.5,269.6 L137.0,267.9 L137.5,266.3 L138.0,264.8 L138.5,263.0 L139.0,261.3 L139.5,259.7 L140.0,257.9 L140.5,257.5 L141.0,259.2 L141.5,261.7 L142.0,263.8 L142.5,265.7 L143.0,267.6 L143.5,269.5 L144.0,271.0 L144.5,272.1 L145.0,272.9 L145.5,273.3 L146.0,273.4 L146.5,273.6 L147.0,273.6 L147.5,273.8 L148.0,274.0 L148.5,273.9 L149.0,273.8 L149.5,274.1 L150.0,274.1 L150.5,273.8 L151.0,273.8 L151.5,274.4 L152.0,274.9 L152.5,275.4 L153.0,276.1 L153.5,276.6 L154.0,277.1 L154.5,277.9 L155.0,278.7 L155.5,279.1 L156.0,279.8 L156.5,280.6 L157.0,281.0 L157.5,281.3 L158.0,282.1 L158.5,282.8 L159.0,283.4 L159.5,283.9 L160.0,284.5 L160.5,285.0 L161.0,285.6 L161.5,286.2 L162.0,286.5 L162.5,286.6 L163.0,287.0 L163.5,287.1 L164.0,286.8 L164.5,286.7 L165.0,286.6 L165.5,286.2 L166.0,286.1 L166.5,286.1 L167.0,285.9 L167.5,285.9 L168.0,285.9 L168.5,285.8 L169.0,285.3 L169.5,285.1 L170.0,284.9 L170.5,284.9 L171.0,285.4 L171.5,285.0 L172.0,284.7 L172.5,284.9 L173.0,284.6 L173.5,284.2 L174.0,284.6 L174.5,284.7 L175.0,284.3 L175.5,284.2 L176.0,284.2 L176.5,284.1 L177.0,284.1 L177.5,284.1 L178.0,283.7 L178.5,283.5 L179.0,283.7 L179.5,284.0 L180.0,284.4 L180.5,284.7 L181.0,284.8 L181.5,284.9 L182.0,284.9 L182.5,284.9 L183.0,285.3 L183.5,285.4 L184.0,284.9 L184.5,284.3 L185.0,284.0 L185.5,283.4 L186.0,282.8 L186.5,282.2 L187.0,281.4 L187.5,280.5 L188.0,279.1 L188.5,277.7 L189.0,276.4 L189.5,274.9 L190.0,273.5 L190.5,272.0 L191.0,270.4 L191.5,269.0 L192.0,267.6 L192.5,266.3 L193.0,265.4 L193.5,266.4 L194.0,268.4 L194.5,270.6 L195.0,272.3 L195.5,273.4 L196.0,274.5 L196.5,275.6 L197.0,276.5 L197.5,277.5 L198.0,278.5 L198.5,279.6 L199.0,280.7 L199.5,281.7 L200.0,282.5 L200.5,283.1 L201.0,283.6 L201.5,283.9 L202.0,283.6 L202.5,283.0 L203.0,282.0 L203.5,280.7 L204.0,279.7 L204.5,278.9 L205.0,277.9 L205.5,276.8 L206.0,275.8 L206.5,275.0 L207.0,274.1 L207.5,272.9 L208.0,271.8 L208.5,271.1 L209.0,270.8 L209.5,270.2 L210.0,269.8 L210.5,270.0 L211.0,270.3 L211.5,270.3 L212.0,270.3 L212.5,270.3 L213.0,270.4 L213.5,270.7 L214.0,271.0 L214.5,271.5 L215.0,271.9 L215.5,271.9 L216.0,272.2 L216.5,272.8 L217.0,273.4 L217.5,273.7 L218.0,273.9 L218.5,274.5 L219.0,275.4 L219.5,275.9 L220.0,275.8 L220.5,276.3 L221.0,277.1 L221.5,277.2 L222.0,277.7 L222.5,278.6 L223.0,279.2 L223.5,279.5 L224.0,280.1 L224.5,280.7 L225.0,281.3 L225.5,281.8 L226.0,282.1 L226.5,282.3 L227.0,282.6 L227.5,283.3 L228.0,283.8 L228.5,283.9 L229.0,283.7 L229.5,283.8 L230.0,283.7 L230.5,283.3 L231.0,282.9 L231.5,282.5 L232.0,282.1 L232.5,282.0 L233.0,281.6 L233.5,281.0 L234.0,280.4 L234.5,279.4 L235.0,278.2 L235.5,276.8 L236.0,275.1 L236.5,272.7 L237.0,270.0 L237.5,267.4 L238.0,265.2 L238.5,263.5 L239.0,261.9 L239.5,260.7 L240.0,259.9 L240.5,258.6 L241.0,256.8 L241.5,254.9 L242.0,252.8 L242.5,250.5 L243.0,248.1 L243.5,245.9 L244.0,243.6 L244.5,241.4 L245.0,239.4 L245.5,237.5 L246.0,235.8 L246.5,234.0 L247.0,232.3 L247.5,230.7 L248.0,229.0 L248.5,227.4 L249.0,226.0 L249.5,224.8 L250.0,223.7 L250.5,223.3 L251.0,223.1 L251.5,223.4 L252.0,224.8 L252.5,227.3 L253.0,230.5 L253.5,233.9 L254.0,237.6 L254.5,241.6 L255.0,245.6 L255.5,249.5 L256.0,253.2 L256.5,256.3 L257.0,258.9 L257.5,261.3 L258.0,263.5 L258.5,265.7 L259.0,267.4 L259.5,268.3 L260.0,268.0 L260.5,267.4 L261.0,266.4 L261.5,265.3 L262.0,264.1 L262.5,263.1 L263.0,262.0 L263.5,260.7 L264.0,259.6 L264.5,258.4 L265.0,257.1 L265.5,256.1 L266.0,254.9 L266.5,253.6 L267.0,252.4 L267.5,251.3 L268.0,250.0 L268.5,248.6 L269.0,247.3 L269.5,245.8 L270.0,244.1 L270.5,242.5 L271.0,240.9 L271.5,239.5 L272.0,238.1 L272.5,236.5 L273.0,235.0 L273.5,233.4 L274.0,231.6 L274.5,230.0 L275.0,228.5 L275.5,226.9 L276.0,225.2 L276.5,223.0 L277.0,220.0 L277.5,216.9 L278.0,214.1 L278.5,211.7 L279.0,209.5 L279.5,208.0 L280.0,207.6 L280.5,208.1 L281.0,209.9 L281.5,213.0 L282.0,216.8 L282.5,220.8 L283.0,225.4 L283.5,231.3 L284.0,240.4 L284.5,251.2 L285.0,260.6 L285.5,266.9 L286.0,271.8 L286.5,275.4 L287.0,277.9 L287.5,279.9 L288.0,281.7 L288.5,283.0 L289.0,283.2 L289.5,282.6 L290.0,282.2 L290.5,281.6 L291.0,280.3 L291.5,279.4 L292.0,279.2 L292.5,279.4 L293.0,279.5 L293.5,279.4 L294.0,279.5 L294.5,279.9 L295.0,280.1 L295.5,280.6 L296.0,282.3 L296.5,284.0 L297.0,284.2 L297.5,283.1 L298.0,281.6 L298.5,279.4 L299.0,277.3 L299.5,275.4 L300.0,273.7 L300.5,272.2 L301.0,270.7 L301.5,269.1 L302.0,267.5 L302.5,266.2 L303.0,265.0 L303.5,263.7 L304.0,262.3 L304.5,261.1 L305.0,259.9 L305.5,258.8 L306.0,258.0 L306.5,257.3 L307.0,256.6 L307.5,255.8 L308.0,254.9 L308.5,254.6 L309.0,254.3 L309.5,253.5 L310.0,252.9 L310.5,252.5 L311.0,252.2 L311.5,252.3 L312.0,252.2 L312.5,251.6 L313.0,250.9 L313.5,250.2 L314.0,249.5 L314.5,248.8 L315.0,248.2 L315.5,247.6 L316.0,246.6 L316.5,245.6 L317.0,244.7 L317.5,244.0 L318.0,243.4 L318.5,242.3 L319.0,241.1 L319.5,240.8 L320.0,240.5 L320.5,239.8 L321.0,239.0 L321.5,238.0 L322.0,236.9 L322.5,236.2 L323.0,236.1 L323.5,236.3 L324.0,236.6 L324.5,236.9 L325.0,237.4 L325.5,238.1 L326.0,238.7 L326.5,239.4 L327.0,240.5 L327.5,241.6 L328.0,242.9 L328.5,244.3 L329.0,245.1 L329.5,245.0 L330.0,242.2 L330.5,237.9 L331.0,233.3 L331.5,228.4 L332.0,223.9 L332.5,219.9 L333.0,216.1 L333.5,212.8 L334.0,210.3 L334.5,209.4 L335.0,210.8 L335.5,212.5 L336.0,214.0 L336.5,215.6 L337.0,217.3 L337.5,218.8 L338.0,220.2 L338.5,221.8 L339.0,223.7 L339.5,225.5 L340.0,226.9 L340.5,226.9 L341.0,224.9 L341.5,221.6 L342.0,218.1 L342.5,215.1 L343.0,214.0 L343.5,213.5 L344.0,213.0 L344.5,212.6 L345.0,212.0 L345.5,211.1 L346.0,210.4 L346.5,210.1 L347.0,209.9 L347.5,209.9 L348.0,210.1 L348.5,209.6 L349.0,208.4 L349.5,206.9 L350.0,205.0 L350.5,202.9 L351.0,201.8 L351.5,202.1 L352.0,203.3 L352.5,204.9 L353.0,206.7 L353.5,208.7 L354.0,210.7 L354.5,212.6 L355.0,214.5 L355.5,216.5 L356.0,218.5 L356.5,220.3 L357.0,222.0 L357.5,223.6 L358.0,225.1 L358.5,226.7 L359.0,228.2 L359.5,229.2 L360.0,230.1 L360.5,231.1 L361.0,232.4 L361.5,233.7 L362.0,234.9 L362.5,236.1 L363.0,237.6 L363.5,239.1 L364.0,240.4 L364.5,242.0 L365.0,244.2 L365.5,247.8 L366.0,252.0 L366.5,256.3 L367.0,260.1 L367.5,263.3 L368.0,266.1 L368.5,268.9 L369.0,271.3 L369.5,273.6 L370.0,275.9 L370.5,278.0 L371.0,279.8 L371.5,281.6 L372.0,282.9 L372.5,283.6 L373.0,283.9 L373.5,283.6 L374.0,283.2 L374.5,282.7 L375.0,282.1 L375.5,281.7 L376.0,281.3 L376.5,280.9 L377.0,280.3 L377.5,279.5 L378.0,279.1 L378.5,278.8 L379.0,278.1 L379.5,278.1 L380.0,278.5 L380.5,278.4 L381.0,278.1 L381.5,277.8 L382.0,277.5 L382.5,277.1 L383.0,276.6 L383.5,276.5 L384.0,276.9 L384.5,277.3 L385.0,277.3 L385.5,277.1 L386.0,277.5 L386.5,278.1 L387.0,278.2 L387.5,277.7 L388.0,276.9 L388.5,276.4 L389.0,276.3 L389.5,275.7 L390.0,275.2 L390.5,274.6 L391.0,273.5 L391.5,272.5 L392.0,271.7 L392.5,270.8 L393.0,270.2 L393.5,269.5 L394.0,268.8 L394.5,268.2 L395.0,267.4 L395.5,266.5 L396.0,265.6 L396.5,264.7 L397.0,263.8 L397.5,263.1 L398.0,262.6 L398.5,262.2 L399.0,261.8 L399.5,261.1 L400.0,260.2 L400.5,259.4 L401.0,258.5 L401.5,257.8 L402.0,257.3 L402.5,256.5 L403.0,255.7 L403.5,255.0 L404.0,254.4 L404.5,254.7 L405.0,255.8 L405.5,257.1 L406.0,258.7 L406.5,260.2 L407.0,261.5 L407.5,262.7 L408.0,263.6 L408.5,264.6 L409.0,265.7 L409.5,266.9 L410.0,268.3 L410.5,269.5 L411.0,270.1 L411.5,270.4 L412.0,270.8 L412.5,271.0 L413.0,270.9 L413.5,271.0 L414.0,271.0 L414.5,270.6 L415.0,270.3 L415.5,269.9 L416.0,269.3 L416.5,268.8 L417.0,268.5 L417.5,268.1 L418.0,267.4 L418.5,266.3 L419.0,265.4 L419.5,265.1 L420.0,264.4 L420.5,263.2 L421.0,262.1 L421.5,261.2 L422.0,260.2 L422.5,259.0 L423.0,257.8 L423.5,256.6 L424.0,255.3 L424.5,254.2 L425.0,253.1 L425.5,251.6 L426.0,250.1 L426.5,248.5 L427.0,246.8 L427.5,245.2 L428.0,243.6 L428.5,241.7 L429.0,239.5 L429.5,237.0 L430.0,234.5 L430.5,232.1 L431.0,229.7 L431.5,227.1 L432.0,224.0 L432.5,220.9 L433.0,218.6 L433.5,218.0 L434.0,219.3 L434.5,221.6 L435.0,223.8 L435.5,225.4 L436.0,227.4 L436.5,229.6 L437.0,231.4 L437.5,233.0 L438.0,234.3 L438.5,235.7 L439.0,236.7 L439.5,237.2 L440.0,237.8 L440.5,238.8 L441.0,239.7 L441.5,240.5 L442.0,240.8 L442.5,240.9 L443.0,240.5 L443.5,239.8 L444.0,238.9 L444.5,237.9 L445.0,236.7 L445.5,235.4 L446.0,234.2 L446.5,233.0 L447.0,231.7 L447.5,230.6 L448.0,229.9 L448.5,229.3 L449.0,229.0 L449.5,229.0 L450.0,229.1 L450.5,229.8 L451.0,230.4 L451.5,230.6 L452.0,230.7 L452.5,231.3 L453.0,231.8 L453.5,232.3 L454.0,232.8 L454.5,233.5 L455.0,234.3 L455.5,235.1 L456.0,236.0 L456.5,237.1 L457.0,238.2 L457.5,239.2 L458.0,240.2 L458.5,241.4 L459.0,242.7 L459.5,244.2 L460.0,245.9 L460.5,247.5 L461.0,248.9 L461.5,250.3 L462.0,251.9 L462.5,253.5 L463.0,255.2 L463.5,256.7 L464.0,258.2 L464.5,259.7 L465.0,260.6 L465.5,261.4 L466.0,262.5 L466.5,263.5 L467.0,264.3 L467.5,265.1 L468.0,266.1 L468.5,267.0 L469.0,267.9 L469.5,268.4 L470.0,268.4 L470.5,268.5 L471.0,268.8 L471.5,269.1 L472.0,268.9 L472.5,268.1 L473.0,267.1 L473.5,266.0 L474.0,264.5 L474.5,262.6 L475.0,260.6 L475.5,258.7 L476.0,256.5 L476.5,254.5 L477.0,252.7 L477.5,250.9 L478.0,249.0 L478.5,247.3 L479.0,246.0 L479.5,244.6 L480.0,243.2 L480.5,242.5 L481.0,243.4 L481.5,245.0 L482.0,247.2 L482.5,249.7 L483.0,252.7 L483.5,256.0 L484.0,258.9 L484.5,261.6 L485.0,264.2 L485.5,266.8 L486.0,269.3 L486.5,271.5 L487.0,273.3 L487.5,275.0 L488.0,276.6 L488.5,278.1 L489.0,279.4 L489.5,280.3 L490.0,281.2 L490.5,281.5 L491.0,281.7 L491.5,282.4 L492.0,282.9 L492.5,283.1 L493.0,283.4 L493.5,283.9 L494.0,284.6 L494.5,284.9 L495.0,285.2 L495.5,285.5 L496.0,285.6 L496.5,286.1 L497.0,286.8 L497.5,287.0 L498.0,287.1 L498.5,286.9 L499.0,286.7 L499.5,286.7 L500.0,286.8 L500.5,286.7 L501.0,286.5 L501.5,286.4 L502.0,286.4 L502.5,286.7 L503.0,287.0 L503.5,286.7 L504.0,286.5 L504.5,286.6 L505.0,286.6 L505.5,286.3 L506.0,286.5 L506.5,286.8 L507.0,286.8 L507.5,286.9 L508.0,286.9 L508.5,286.8 L509.0,286.3 L509.5,285.9 L510.0,286.1 L510.5,286.4 L511.0,286.5 L511.5,286.7 L512.0,286.8 L512.5,286.9 L513.0,286.9 L513.5,286.7 L514.0,286.7 L514.5,286.5 L515.0,286.5 L515.5,286.6 L516.0,286.7 L516.5,286.7 L517.0,286.5 L517.5,286.5 L518.0,286.5 L518.5,286.5 L519.0,286.5 L519.5,286.5 L520.0,286.6 L520.5,286.4 L521.0,286.5 L521.5,287.0 L522.0,287.2 L522.5,287.1 L523.0,287.2 L523.5,287.2 L524.0,286.7 L524.5,286.3 L525.0,286.6 L525.5,286.9 L526.0,287.1 L526.5,287.2 L527.0,287.1 L527.5,286.7 L528.0,286.4 L528.5,286.7 L529.0,287.3 L529.5,287.3 L530.0,286.9 L530.5,286.7 L531.0,286.6 L531.5,286.5 L532.0,286.3 L532.5,286.0 L533.0,286.3 L533.5,286.6 L534.0,286.6" stroke="#6787ff" stroke-width="1.35"/>
<path d="M34.5,285.8 L35.0,285.7 L35.5,285.6 L36.0,285.5 L36.5,285.4 L37.0,285.2 L37.5,285.1 L38.0,285.0 L38.5,284.9 L39.0,284.7 L39.5,284.4 L40.0,284.2 L40.5,284.0 L41.0,283.9 L41.5,283.8 L42.0,283.8 L42.5,283.8 L43.0,283.9 L43.5,283.9 L44.0,284.0 L44.5,284.0 L45.0,284.1 L45.5,284.2 L46.0,284.2 L46.5,284.2 L47.0,284.3 L47.5,284.3 L48.0,284.4 L48.5,284.4 L49.0,284.5 L49.5,284.5 L50.0,284.6 L50.5,284.6 L51.0,284.7 L51.5,284.7 L52.0,284.7 L52.5,284.7 L53.0,284.6 L53.5,284.6 L54.0,284.6 L54.5,284.6 L55.0,284.6 L55.5,284.6 L56.0,284.7 L56.5,284.8 L57.0,284.9 L57.5,285.1 L58.0,285.2 L58.5,285.2 L59.0,285.2 L59.5,285.2 L60.0,285.0 L60.5,284.8 L61.0,284.5 L61.5,284.1 L62.0,283.7 L62.5,283.4 L63.0,283.0 L63.5,282.7 L64.0,282.4 L64.5,282.0 L65.0,281.7 L65.5,281.4 L66.0,281.1 L66.5,280.8 L67.0,280.5 L67.5,280.3 L68.0,280.1 L68.5,279.9 L69.0,279.7 L69.5,279.4 L70.0,279.0 L70.5,278.4 L71.0,277.5 L71.5,276.4 L72.0,275.2 L72.5,274.0 L73.0,272.8 L73.5,271.6 L74.0,270.4 L74.5,269.2 L75.0,268.0 L75.5,266.7 L76.0,265.4 L76.5,264.1 L77.0,262.8 L77.5,261.5 L78.0,260.4 L78.5,259.5 L79.0,259.0 L79.5,258.8 L80.0,258.9 L80.5,259.2 L81.0,259.8 L81.5,260.5 L82.0,261.3 L82.5,262.2 L83.0,263.0 L83.5,263.9 L84.0,264.7 L84.5,265.5 L85.0,266.3 L85.5,267.0 L86.0,267.8 L86.5,268.5 L87.0,269.3 L87.5,270.0 L88.0,270.7 L88.5,271.4 L89.0,272.1 L89.5,272.8 L90.0,273.5 L90.5,274.2 L91.0,274.8 L91.5,275.3 L92.0,275.8 L92.5,276.1 L93.0,276.4 L93.5,276.5 L94.0,276.6 L94.5,276.6 L95.0,276.2 L95.5,275.5 L96.0,274.6 L96.5,273.4 L97.0,272.0 L97.5,270.5 L98.0,268.9 L98.5,267.1 L99.0,265.3 L99.5,263.3 L100.0,261.1 L100.5,258.9 L101.0,256.5 L101.5,254.1 L102.0,251.8 L102.5,249.5 L103.0,247.3 L103.5,245.3 L104.0,243.6 L104.5,242.1 L105.0,240.7 L105.5,239.5 L106.0,238.5 L106.5,237.8 L107.0,237.5 L107.5,237.3 L108.0,237.3 L108.5,237.8 L109.0,238.9 L109.5,240.8 L110.0,243.0 L110.5,245.4 L111.0,248.0 L111.5,250.7 L112.0,253.3 L112.5,256.0 L113.0,258.8 L113.5,261.7 L114.0,264.6 L114.5,267.4 L115.0,270.0 L115.5,272.0 L116.0,273.3 L116.5,274.2 L117.0,274.9 L117.5,275.5 L118.0,276.2 L118.5,276.9 L119.0,277.6 L119.5,278.1 L120.0,278.5 L120.5,278.8 L121.0,279.0 L121.5,279.2 L122.0,279.4 L122.5,279.5 L123.0,279.5 L123.5,279.5 L124.0,279.4 L124.5,279.2 L125.0,279.0 L125.5,278.7 L126.0,278.4 L126.5,278.0 L127.0,277.7 L127.5,277.4 L128.0,277.0 L128.5,276.6 L129.0,276.0 L129.5,275.5 L130.0,275.2 L130.5,275.0 L131.0,275.1 L131.5,275.4 L132.0,275.9 L132.5,276.3 L133.0,276.8 L133.5,277.2 L134.0,277.7 L134.5,278.1 L135.0,278.5 L135.5,278.8 L136.0,279.2 L136.5,279.5 L137.0,279.8 L137.5,280.2 L138.0,280.5 L138.5,280.8 L139.0,281.2 L139.5,281.6 L140.0,281.9 L140.5,282.3 L141.0,282.7 L141.5,283.0 L142.0,283.4 L142.5,283.7 L143.0,284.0 L143.5,284.3 L144.0,284.5 L144.5,284.7 L145.0,284.8 L145.5,284.9 L146.0,285.0 L146.5,285.0 L147.0,285.1 L147.5,285.1 L148.0,285.1 L148.5,285.2 L149.0,285.2 L149.5,285.3 L150.0,285.3 L150.5,285.3 L151.0,285.4 L151.5,285.4 L152.0,285.5 L152.5,285.5 L153.0,285.5 L153.5,285.5 L154.0,285.5 L154.5,285.5 L155.0,285.5 L155.5,285.5 L156.0,285.4 L156.5,285.4 L157.0,285.3 L157.5,285.2 L158.0,285.1 L158.5,285.0 L159.0,284.9 L159.5,284.8 L160.0,284.7 L160.5,284.5 L161.0,284.4 L161.5,284.2 L162.0,284.0 L162.5,283.8 L163.0,283.6 L163.5,283.4 L164.0,283.1 L164.5,282.9 L165.0,282.6 L165.5,282.4 L166.0,282.1 L166.5,281.8 L167.0,281.6 L167.5,281.3 L168.0,281.0 L168.5,280.7 L169.0,280.5 L169.5,280.2 L170.0,279.9 L170.5,279.6 L171.0,279.3 L171.5,278.9 L172.0,278.5 L172.5,278.0 L173.0,277.5 L173.5,276.9 L174.0,276.3 L174.5,275.7 L175.0,275.0 L175.5,274.3 L176.0,273.6 L176.5,273.0 L177.0,272.4 L177.5,271.7 L178.0,271.1 L178.5,270.5 L179.0,270.0 L179.5,270.2 L180.0,271.3 L180.5,272.5 L181.0,273.7 L181.5,274.9 L182.0,276.0 L182.5,277.0 L183.0,278.0 L183.5,278.9 L184.0,279.7 L184.5,280.4 L185.0,281.0 L185.5,281.5 L186.0,282.0 L186.5,282.4 L187.0,282.8 L187.5,283.2 L188.0,283.5 L188.5,283.7 L189.0,284.0 L189.5,284.2 L190.0,284.3 L190.5,284.4 L191.0,284.6 L191.5,284.7 L192.0,284.8 L192.5,284.9 L193.0,285.0 L193.5,285.1 L194.0,285.2 L194.5,285.3 L195.0,285.3 L195.5,285.3 L196.0,285.4 L196.5,285.4 L197.0,285.4 L197.5,285.5 L198.0,285.5 L198.5,285.5 L199.0,285.6 L199.5,285.6 L200.0,285.6 L200.5,285.6 L201.0,285.6 L201.5,285.6 L202.0,285.6 L202.5,285.6 L203.0,285.6 L203.5,285.6 L204.0,285.6 L204.5,285.6 L205.0,285.6 L205.5,285.6 L206.0,285.6 L206.5,285.6 L207.0,285.6 L207.5,285.5 L208.0,285.5 L208.5,285.4 L209.0,285.4 L209.5,285.3 L210.0,285.2 L210.5,285.1 L211.0,285.0 L211.5,284.9 L212.0,284.7 L212.5,284.6 L213.0,284.4 L213.5,284.2 L214.0,284.0 L214.5,283.8 L215.0,283.5 L215.5,283.3 L216.0,283.0 L216.5,282.7 L217.0,282.3 L217.5,281.9 L218.0,281.5 L218.5,281.0 L219.0,280.6 L219.5,280.3 L220.0,280.0 L220.5,279.8 L221.0,279.6 L221.5,279.4 L222.0,279.3 L222.5,279.2 L223.0,279.0 L223.5,278.9 L224.0,278.8 L224.5,278.7 L225.0,278.5 L225.5,278.3 L226.0,278.1 L226.5,277.8 L227.0,277.6 L227.5,277.3 L228.0,277.0 L228.5,276.6 L229.0,275.8 L229.5,274.3 L230.0,272.0 L230.5,268.9 L231.0,265.4 L231.5,262.0 L232.0,258.9 L232.5,255.9 L233.0,253.0 L233.5,250.4 L234.0,248.1 L234.5,246.4 L235.0,245.2 L235.5,244.6 L236.0,244.7 L236.5,245.2 L237.0,246.1 L237.5,247.0 L238.0,248.3 L238.5,250.0 L239.0,251.6 L239.5,252.7 L240.0,252.6 L240.5,250.9 L241.0,248.0 L241.5,244.6 L242.0,241.0 L242.5,237.0 L243.0,232.5 L243.5,227.9 L244.0,223.9 L244.5,220.6 L245.0,218.0 L245.5,216.2 L246.0,215.2 L246.5,214.8 L247.0,214.8 L247.5,215.2 L248.0,216.2 L248.5,218.0 L249.0,220.9 L249.5,224.2 L250.0,227.0 L250.5,229.2 L251.0,231.4 L251.5,233.6 L252.0,235.7 L252.5,238.0 L253.0,240.4 L253.5,242.9 L254.0,245.3 L254.5,247.8 L255.0,250.2 L255.5,252.6 L256.0,254.9 L256.5,257.2 L257.0,259.4 L257.5,261.5 L258.0,263.6 L258.5,265.7 L259.0,267.8 L259.5,269.9 L260.0,271.9 L260.5,273.7 L261.0,275.3 L261.5,276.4 L262.0,277.0 L262.5,277.1 L263.0,276.8 L263.5,276.1 L264.0,275.3 L264.5,274.3 L265.0,273.2 L265.5,272.0 L266.0,270.8 L266.5,269.5 L267.0,268.2 L267.5,266.8 L268.0,265.4 L268.5,264.1 L269.0,262.8 L269.5,261.6 L270.0,260.5 L270.5,259.5 L271.0,258.7 L271.5,257.9 L272.0,257.2 L272.5,256.6 L273.0,256.0 L273.5,255.5 L274.0,255.1 L274.5,254.9 L275.0,254.8 L275.5,254.8 L276.0,255.0 L276.5,255.6 L277.0,256.6 L277.5,258.2 L278.0,259.9 L278.5,261.8 L279.0,263.5 L279.5,265.2 L280.0,266.9 L280.5,268.5 L281.0,270.2 L281.5,271.8 L282.0,273.4 L282.5,274.9 L283.0,276.2 L283.5,277.4 L284.0,278.3 L284.5,279.0 L285.0,279.6 L285.5,280.0 L286.0,280.2 L286.5,280.2 L287.0,280.2 L287.5,280.0 L288.0,279.8 L288.5,279.5 L289.0,279.2 L289.5,278.8 L290.0,278.4 L290.5,277.9 L291.0,277.2 L291.5,276.4 L292.0,275.5 L292.5,274.7 L293.0,273.9 L293.5,273.2 L294.0,272.8 L294.5,272.6 L295.0,272.7 L295.5,273.1 L296.0,273.6 L296.5,274.3 L297.0,275.0 L297.5,275.7 L298.0,276.5 L298.5,277.1 L299.0,277.6 L299.5,278.0 L300.0,278.4 L300.5,278.8 L301.0,279.1 L301.5,279.4 L302.0,279.7 L302.5,279.9 L303.0,280.1 L303.5,280.3 L304.0,280.3 L304.5,280.2 L305.0,280.1 L305.5,279.8 L306.0,279.5 L306.5,279.1 L307.0,278.6 L307.5,278.1 L308.0,277.5 L308.5,276.8 L309.0,276.1 L309.5,275.2 L310.0,274.3 L310.5,273.2 L311.0,271.9 L311.5,270.5 L312.0,268.9 L312.5,267.1 L313.0,265.2 L313.5,263.2 L314.0,261.2 L314.5,259.1 L315.0,257.1 L315.5,255.1 L316.0,253.2 L316.5,251.4 L317.0,249.6 L317.5,247.9 L318.0,246.2 L318.5,244.5 L319.0,242.8 L319.5,241.2 L320.0,239.6 L320.5,238.1 L321.0,236.6 L321.5,235.1 L322.0,233.8 L322.5,232.6 L323.0,231.6 L323.5,230.8 L324.0,230.1 L324.5,229.5 L325.0,229.0 L325.5,228.6 L326.0,228.3 L326.5,228.2 L327.0,228.2 L327.5,228.4 L328.0,228.7 L328.5,229.2 L329.0,230.0 L329.5,230.9 L330.0,231.9 L330.5,232.8 L331.0,233.8 L331.5,234.7 L332.0,235.6 L332.5,236.5 L333.0,237.4 L333.5,238.3 L334.0,239.1 L334.5,239.9 L335.0,240.6 L335.5,241.2 L336.0,241.7 L336.5,242.0 L337.0,242.3 L337.5,242.6 L338.0,242.8 L338.5,243.1 L339.0,243.3 L339.5,243.6 L340.0,243.8 L340.5,244.0 L341.0,244.2 L341.5,244.4 L342.0,244.6 L342.5,244.8 L343.0,245.0 L343.5,245.0 L344.0,244.9 L344.5,244.9 L345.0,244.7 L345.5,244.6 L346.0,244.5 L346.5,244.5 L347.0,244.5 L347.5,244.5 L348.0,244.7 L348.5,245.1 L349.0,245.7 L349.5,246.6 L350.0,247.8 L350.5,249.5 L351.0,251.4 L351.5,253.6 L352.0,255.9 L352.5,258.2 L353.0,260.4 L353.5,262.5 L354.0,264.5 L354.5,266.5 L355.0,268.4 L355.5,270.3 L356.0,272.0 L356.5,273.5 L357.0,274.8 L357.5,275.8 L358.0,276.7 L358.5,277.4 L359.0,277.9 L359.5,278.4 L360.0,278.8 L360.5,279.2 L361.0,279.5 L361.5,279.9 L362.0,280.2 L362.5,280.5 L363.0,280.7 L363.5,280.9 L364.0,281.1 L364.5,281.2 L365.0,281.3 L365.5,281.3 L366.0,281.2 L366.5,281.1 L367.0,280.9 L367.5,280.8 L368.0,280.6 L368.5,280.4 L369.0,280.2 L369.5,279.9 L370.0,279.7 L370.5,279.4 L371.0,279.0 L371.5,278.6 L372.0,278.2 L372.5,277.7 L373.0,277.3 L373.5,276.7 L374.0,276.2 L374.5,275.7 L375.0,275.2 L375.5,274.6 L376.0,274.1 L376.5,273.6 L377.0,273.1 L377.5,272.7 L378.0,272.3 L378.5,271.9 L379.0,271.5 L379.5,271.1 L380.0,270.7 L380.5,270.4 L381.0,270.0 L381.5,269.6 L382.0,269.2 L382.5,268.8 L383.0,268.4 L383.5,268.1 L384.0,267.7 L384.5,267.3 L385.0,266.9 L385.5,266.6 L386.0,266.2 L386.5,265.8 L387.0,265.4 L387.5,265.0 L388.0,264.7 L388.5,264.3 L389.0,263.9 L389.5,263.5 L390.0,263.2 L390.5,262.8 L391.0,262.4 L391.5,262.1 L392.0,261.7 L392.5,261.3 L393.0,260.9 L393.5,260.6 L394.0,260.2 L394.5,259.8 L395.0,259.4 L395.5,259.0 L396.0,258.6 L396.5,258.2 L397.0,257.8 L397.5,257.3 L398.0,256.9 L398.5,256.5 L399.0,256.1 L399.5,255.7 L400.0,255.3 L400.5,254.9 L401.0,254.5 L401.5,254.2 L402.0,253.9 L402.5,253.6 L403.0,253.4 L403.5,253.3 L404.0,253.1 L404.5,253.1 L405.0,253.0 L405.5,253.1 L406.0,253.1 L406.5,253.3 L407.0,253.5 L407.5,253.7 L408.0,253.9 L408.5,254.2 L409.0,254.5 L409.5,254.9 L410.0,255.2 L410.5,255.6 L411.0,256.0 L411.5,256.3 L412.0,256.8 L412.5,257.2 L413.0,257.7 L413.5,258.2 L414.0,258.7 L414.5,259.2 L415.0,259.6 L415.5,260.0 L416.0,260.4 L416.5,260.7 L417.0,260.9 L417.5,261.0 L418.0,261.1 L418.5,261.2 L419.0,261.2 L419.5,261.2 L420.0,261.1 L420.5,261.1 L421.0,260.9 L421.5,260.7 L422.0,260.5 L422.5,260.3 L423.0,260.1 L423.5,259.9 L424.0,259.7 L424.5,259.5 L425.0,259.5 L425.5,259.5 L426.0,259.6 L426.5,259.7 L427.0,259.9 L427.5,260.1 L428.0,260.3 L428.5,260.5 L429.0,260.7 L429.5,260.9 L430.0,261.1 L430.5,261.3 L431.0,261.5 L431.5,261.6 L432.0,261.7 L432.5,261.7 L433.0,261.7 L433.5,261.8 L434.0,261.8 L434.5,261.8 L435.0,261.9 L435.5,261.9 L436.0,261.9 L436.5,262.0 L437.0,262.0 L437.5,262.0 L438.0,262.0 L438.5,262.0 L439.0,262.1 L439.5,262.1 L440.0,262.1 L440.5,262.1 L441.0,262.1 L441.5,262.1 L442.0,262.1 L442.5,262.1 L443.0,262.0 L443.5,262.0 L444.0,262.0 L444.5,262.0 L445.0,262.0 L445.5,262.0 L446.0,262.1 L446.5,262.1 L447.0,262.2 L447.5,262.3 L448.0,262.4 L448.5,262.5 L449.0,262.6 L449.5,262.7 L450.0,262.8 L450.5,263.0 L451.0,263.1 L451.5,263.2 L452.0,263.4 L452.5,263.5 L453.0,263.7 L453.5,263.8 L454.0,264.0 L454.5,264.1 L455.0,264.3 L455.5,264.4 L456.0,264.6 L456.5,264.7 L457.0,264.9 L457.5,265.0 L458.0,265.2 L458.5,265.3 L459.0,265.5 L459.5,265.6 L460.0,265.8 L460.5,265.9 L461.0,266.1 L461.5,266.2 L462.0,266.4 L462.5,266.5 L463.0,266.7 L463.5,266.8 L464.0,267.0 L464.5,267.1 L465.0,267.3 L465.5,267.4 L466.0,267.6 L466.5,267.7 L467.0,267.9 L467.5,268.0 L468.0,268.2 L468.5,268.3 L469.0,268.5 L469.5,268.6 L470.0,268.8 L470.5,268.9 L471.0,269.0 L471.5,269.1 L472.0,269.2 L472.5,269.1 L473.0,268.7 L473.5,267.9 L474.0,267.0 L474.5,265.8 L475.0,264.4 L475.5,262.8 L476.0,261.0 L476.5,258.8 L477.0,256.2 L477.5,253.2 L478.0,249.7 L478.5,245.7 L479.0,241.6 L479.5,237.4 L480.0,233.3 L480.5,229.2 L481.0,225.1 L481.5,221.1 L482.0,217.2 L482.5,213.2 L483.0,210.3 L483.5,208.6 L484.0,207.8 L484.5,207.6 L485.0,208.3 L485.5,210.0 L486.0,212.7 L486.5,216.2 L487.0,220.2 L487.5,224.8 L488.0,230.0 L488.5,236.4 L489.0,243.4 L489.5,249.0 L490.0,253.4 L490.5,257.3 L491.0,260.8 L491.5,264.0 L492.0,267.2 L492.5,270.0 L493.0,272.4 L493.5,274.2 L494.0,275.8 L494.5,277.1 L495.0,278.3 L495.5,279.2 L496.0,280.0 L496.5,280.5 L497.0,281.1 L497.5,281.7 L498.0,282.2 L498.5,282.7 L499.0,283.1 L499.5,283.5 L500.0,283.7 L500.5,283.9 L501.0,284.0 L501.5,284.2 L502.0,284.3 L502.5,284.4 L503.0,284.6 L503.5,284.7 L504.0,284.8 L504.5,284.9 L505.0,285.1 L505.5,285.2 L506.0,285.3 L506.5,285.3 L507.0,285.4 L507.5,285.5 L508.0,285.6 L508.5,285.6 L509.0,285.7 L509.5,285.7 L510.0,285.8 L510.5,285.8 L511.0,285.9 L511.5,285.9 L512.0,286.0 L512.5,286.0 L513.0,286.1 L513.5,286.1 L514.0,286.2 L514.5,286.2 L515.0,286.3 L515.5,286.3 L516.0,286.4 L516.5,286.4 L517.0,286.4 L517.5,286.5 L518.0,286.5 L518.5,286.5 L519.0,286.6 L519.5,286.6 L520.0,286.6 L520.5,286.6 L521.0,286.6 L521.5,286.6 L522.0,286.6 L522.5,286.6 L523.0,286.6 L523.5,286.6 L524.0,286.6 L524.5,286.6 L525.0,286.6 L525.5,286.6 L526.0,286.6 L526.5,286.6 L527.0,286.6 L527.5,286.6 L528.0,286.6 L528.5,286.6 L529.0,286.5 L529.5,286.5 L530.0,286.5 L530.5,286.5 L531.0,286.4 L531.5,286.4 L532.0,286.4 L532.5,286.3 L533.0,286.3 L533.5,286.3 L534.0,286.2" stroke="#000" stroke-width="1.5"/>
</g>
<rect x="34.5" y="5.0" width="500.0" height="291.8" fill="none" stroke="#111" stroke-width="1.4"/>
<path d="M34.50,296.8v5.2M47.32,296.8v3M60.14,296.8v3M72.96,296.8v5.2M85.78,296.8v3M98.60,296.8v3M111.42,296.8v5.2M124.24,296.8v3M137.06,296.8v3M149.88,296.8v5.2M162.71,296.8v3M175.53,296.8v3M188.35,296.8v5.2M201.17,296.8v3M213.99,296.8v3M226.81,296.8v5.2M239.63,296.8v3M252.45,296.8v3M265.27,296.8v5.2M278.09,296.8v3M290.91,296.8v3M303.73,296.8v5.2M316.55,296.8v3M329.37,296.8v3M342.19,296.8v5.2M355.01,296.8v3M367.83,296.8v3M380.65,296.8v5.2M393.47,296.8v3M406.29,296.8v3M419.12,296.8v5.2M431.94,296.8v3M444.76,296.8v3M457.58,296.8v5.2M470.40,296.8v3M483.22,296.8v3M496.04,296.8v5.2M508.86,296.8v3M521.68,296.8v3M534.50,296.8v5.2" stroke="#111" stroke-width="1.2" fill="none"/>
<text x="34.50" y="315.6" font-size="11.5" text-anchor="middle">300</text>
<text x="72.96" y="315.6" font-size="11.5" text-anchor="middle">400</text>
<text x="111.42" y="315.6" font-size="11.5" text-anchor="middle">500</text>
<text x="149.88" y="315.6" font-size="11.5" text-anchor="middle">600</text>
<text x="188.35" y="315.6" font-size="11.5" text-anchor="middle">700</text>
<text x="226.81" y="315.6" font-size="11.5" text-anchor="middle">800</text>
<text x="265.27" y="315.6" font-size="11.5" text-anchor="middle">900</text>
<text x="303.73" y="315.6" font-size="11.5" text-anchor="middle">1000</text>
<text x="342.19" y="315.6" font-size="11.5" text-anchor="middle">1100</text>
<text x="380.65" y="315.6" font-size="11.5" text-anchor="middle">1200</text>
<text x="419.12" y="315.6" font-size="11.5" text-anchor="middle">1300</text>
<text x="457.58" y="315.6" font-size="11.5" text-anchor="middle">1400</text>
<text x="496.04" y="315.6" font-size="11.5" text-anchor="middle">1500</text>
<text x="534.50" y="315.6" font-size="11.5" text-anchor="middle">1600</text>
<text transform="translate(284.4,339) scale(1,0.93)" font-size="14.6" text-anchor="middle">Raman shift / cm<tspan font-size="9.3" dy="-6">-1</tspan></text>
<text transform="translate(14.2,150.4) rotate(-90) scale(1,0.93)" font-size="14.6" text-anchor="middle">Normalized Intensity / a.u.</text>
<rect x="355.3" y="10.4" width="174.8" height="64.6" fill="#fff" stroke="#b8b8b8" stroke-width="0.9"/>
<path d="M358.3,19.2H387.5" stroke="#000" stroke-width="1.5" fill="none"/>
<text x="391.5" y="23.5" font-size="13">Glycerol</text>
<path d="M358.3,34.9H387.5" stroke="#6787ff" stroke-width="1.4" fill="none"/>
<text x="391.5" y="39.2" font-size="13">S-AH-00min</text>
<path d="M358.3,50.9H387.5" stroke="#2f5fff" stroke-width="1.5" fill="none"/>
<text x="391.5" y="55.2" font-size="13">TPS-AH-60min(SC)</text>
<path d="M358.3,67.1H387.5" stroke="#0a10c8" stroke-width="1.7" fill="none"/>
<text x="391.5" y="71.4" font-size="13">TPS-AH-60min(SCMM)</text>
</svg></body></html>
